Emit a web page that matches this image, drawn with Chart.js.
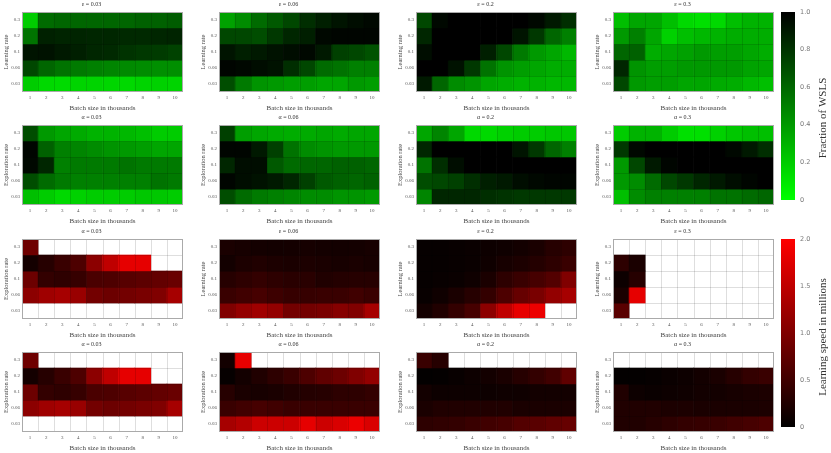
<!DOCTYPE html>
<html>
<head>
<meta charset="utf-8">
<script src="https://cdn.jsdelivr.net/npm/chart.js@4.4.1/dist/chart.umd.min.js"></script>
<style>
  body { margin: 0; background: #fff; }
  #wrap { position: relative; width: 831px; height: 453px; overflow: hidden; }
  canvas { position: absolute; }
</style>
</head>
<body>
<div id="wrap"></div>
<script>
// Axis labels
const batchSizes = ['1', '2', '3', '4', '5', '6', '7', '8', '9', '10'];
const rateLabels = ['0.3', '0.2', '0.1', '0.06', '0.03']; // top row first

// Fraction of WSLS, rows = learning rate (top 0.3 ... bottom 0.03)
const wslsEps003 = [
  [0.20, 0.58, 0.60, 0.60, 0.60, 0.60, 0.60, 0.62, 0.62, 0.64],
  [0.55, 0.87, 0.86, 0.86, 0.85, 0.85, 0.84, 0.84, 0.85, 0.86],
  [0.92, 0.93, 0.90, 0.88, 0.85, 0.84, 0.80, 0.78, 0.77, 0.74],
  [0.72, 0.60, 0.55, 0.52, 0.50, 0.48, 0.46, 0.45, 0.44, 0.44],
  [0.20, 0.15, 0.14, 0.17, 0.17, 0.16, 0.15, 0.17, 0.18, 0.17]
];
const wslsEps006 = [
  [0.37, 0.45, 0.58, 0.65, 0.72, 0.82, 0.88, 0.92, 0.95, 0.97],
  [0.72, 0.72, 0.70, 0.78, 0.85, 0.88, 0.97, 0.98, 0.98, 0.98],
  [0.92, 0.88, 0.90, 0.93, 0.95, 0.97, 0.90, 0.75, 0.72, 0.68],
  [0.98, 0.97, 0.95, 0.93, 0.82, 0.72, 0.58, 0.55, 0.50, 0.50],
  [0.70, 0.52, 0.42, 0.40, 0.38, 0.38, 0.35, 0.35, 0.40, 0.38]
];
const wslsEps02 = [
  [0.72, 0.97, 1.00, 1.00, 1.00, 1.00, 1.00, 0.97, 0.90, 0.82],
  [0.85, 1.00, 1.00, 1.00, 1.00, 1.00, 0.92, 0.78, 0.60, 0.50],
  [0.95, 1.00, 1.00, 1.00, 0.88, 0.72, 0.52, 0.40, 0.35, 0.28],
  [1.00, 1.00, 0.93, 0.78, 0.55, 0.42, 0.38, 0.35, 0.32, 0.32],
  [0.90, 0.60, 0.45, 0.42, 0.35, 0.32, 0.30, 0.30, 0.28, 0.28]
];
const wslsEps03 = [
  [0.25, 0.35, 0.35, 0.25, 0.15, 0.12, 0.15, 0.25, 0.30, 0.30],
  [0.40, 0.50, 0.35, 0.18, 0.25, 0.28, 0.30, 0.32, 0.32, 0.32],
  [0.60, 0.62, 0.32, 0.35, 0.37, 0.40, 0.38, 0.38, 0.35, 0.32],
  [0.85, 0.42, 0.38, 0.38, 0.40, 0.40, 0.40, 0.40, 0.36, 0.35],
  [0.72, 0.40, 0.38, 0.38, 0.35, 0.35, 0.33, 0.32, 0.28, 0.25]
];

// Fraction of WSLS, rows = exploration rate
const wslsAlpha003 = [
  [0.70, 0.40, 0.35, 0.33, 0.30, 0.30, 0.28, 0.25, 0.20, 0.20],
  [0.98, 0.62, 0.50, 0.48, 0.45, 0.42, 0.40, 0.38, 0.35, 0.35],
  [0.97, 0.85, 0.50, 0.52, 0.52, 0.52, 0.55, 0.52, 0.52, 0.52],
  [0.70, 0.58, 0.52, 0.50, 0.50, 0.50, 0.50, 0.50, 0.55, 0.52],
  [0.25, 0.20, 0.15, 0.18, 0.20, 0.20, 0.20, 0.22, 0.22, 0.20]
];
const wslsAlpha006 = [
  [0.75, 0.38, 0.35, 0.33, 0.32, 0.33, 0.35, 0.33, 0.35, 0.35],
  [0.98, 0.98, 0.90, 0.75, 0.55, 0.45, 0.42, 0.40, 0.40, 0.40],
  [0.85, 0.95, 0.95, 0.65, 0.58, 0.60, 0.60, 0.62, 0.62, 0.60],
  [0.98, 0.95, 0.93, 0.90, 0.85, 0.75, 0.65, 0.62, 0.60, 0.62],
  [0.70, 0.58, 0.52, 0.50, 0.48, 0.45, 0.45, 0.42, 0.42, 0.40]
];
const wslsAlpha02 = [
  [0.35, 0.48, 0.35, 0.15, 0.15, 0.18, 0.20, 0.20, 0.22, 0.22],
  [0.85, 1.00, 1.00, 1.00, 1.00, 1.00, 0.92, 0.78, 0.60, 0.50],
  [0.55, 0.82, 0.95, 1.00, 1.00, 1.00, 1.00, 1.00, 1.00, 1.00],
  [0.70, 0.72, 0.75, 0.82, 0.88, 0.90, 0.95, 0.97, 0.98, 0.98],
  [0.48, 0.85, 0.85, 0.85, 0.82, 0.80, 0.78, 0.78, 0.78, 0.78]
];
const wslsAlpha03 = [
  [0.20, 0.30, 0.30, 0.20, 0.12, 0.12, 0.18, 0.22, 0.25, 0.25],
  [0.78, 0.97, 1.00, 1.00, 1.00, 1.00, 1.00, 0.97, 0.90, 0.82],
  [0.40, 0.72, 0.90, 0.98, 1.00, 1.00, 1.00, 1.00, 1.00, 1.00],
  [0.40, 0.45, 0.58, 0.72, 0.78, 0.85, 0.90, 0.95, 0.98, 1.00],
  [0.25, 0.45, 0.50, 0.50, 0.50, 0.50, 0.55, 0.55, 0.58, 0.60]
];

// Learning speed in millions (null = no value)
const speedAlpha003 = [
  [0.86, null, null, null, null, null, null, null, null, null],
  [0.16, 0.30, 0.45, 0.60, 1.10, 1.50, 1.80, 1.80, null, null],
  [0.85, 0.40, 0.36, 0.42, 0.58, 0.60, 0.68, 0.72, 0.78, 0.82],
  [1.10, 1.25, 1.30, 1.20, 0.90, 0.85, 0.90, 0.95, 1.00, 1.30],
  [null, null, null, null, null, null, null, null, null, null]
];
const speedEps006 = [
  [0.20, 0.18, 0.16, 0.15, 0.16, 0.17, 0.16, 0.15, 0.16, 0.18],
  [0.15, 0.22, 0.25, 0.22, 0.20, 0.22, 0.20, 0.18, 0.20, 0.18],
  [0.30, 0.35, 0.40, 0.35, 0.32, 0.32, 0.25, 0.28, 0.30, 0.30],
  [0.45, 0.50, 0.55, 0.48, 0.42, 0.42, 0.45, 0.45, 0.50, 0.45],
  [1.00, 1.15, 1.25, 1.15, 0.90, 0.90, 0.95, 1.05, 1.00, 1.30]
];
const speedEps02 = [
  [0.05, 0.05, 0.06, 0.08, 0.10, 0.12, 0.15, 0.20, 0.30, 0.35],
  [0.05, 0.05, 0.06, 0.08, 0.12, 0.18, 0.22, 0.28, 0.35, 0.45],
  [0.05, 0.06, 0.08, 0.12, 0.20, 0.35, 0.45, 0.55, 0.65, 1.00],
  [0.06, 0.12, 0.20, 0.30, 0.40, 0.60, 0.80, 0.95, 1.15, 1.30],
  [0.15, 0.25, 0.40, 0.55, 1.10, 1.50, 1.80, 1.85, null, null]
];
const speedEps03 = [
  [null, null, null, null, null, null, null, null, null, null],
  [0.35, 0.20, null, null, null, null, null, null, null, null],
  [0.10, 0.30, null, null, null, null, null, null, null, null],
  [0.20, 1.80, null, null, null, null, null, null, null, null],
  [0.70, null, null, null, null, null, null, null, null, null]
];
const speedAlpha006 = [
  [0.15, 1.80, null, null, null, null, null, null, null, null],
  [0.05, 0.15, 0.25, 0.35, 0.45, 0.60, 0.75, 0.85, 1.00, 1.15],
  [0.30, 0.20, 0.18, 0.20, 0.25, 0.28, 0.30, 0.35, 0.35, 0.40],
  [0.45, 0.50, 0.55, 0.50, 0.45, 0.45, 0.45, 0.45, 0.45, 0.45],
  [1.30, 1.40, 1.60, 1.60, 1.60, 1.80, 1.60, 1.70, 1.85, 1.70]
];
const speedAlpha02 = [
  [0.45, 0.30, null, null, null, null, null, null, null, null],
  [0.02, 0.03, 0.06, 0.10, 0.15, 0.20, 0.30, 0.40, 0.50, 0.75],
  [0.15, 0.10, 0.10, 0.10, 0.10, 0.12, 0.12, 0.15, 0.15, 0.15],
  [0.20, 0.25, 0.25, 0.25, 0.25, 0.25, 0.20, 0.20, 0.20, 0.20],
  [0.35, 0.38, 0.40, 0.45, 0.50, 0.55, 0.65, 0.70, 0.75, 0.80]
];
const speedAlpha03 = [
  [null, null, null, null, null, null, null, null, null, null],
  [0.02, 0.03, 0.05, 0.08, 0.10, 0.15, 0.20, 0.30, 0.40, 0.45],
  [0.25, 0.10, 0.08, 0.10, 0.12, 0.15, 0.15, 0.18, 0.20, 0.22],
  [0.25, 0.25, 0.25, 0.22, 0.22, 0.20, 0.20, 0.20, 0.20, 0.22],
  [0.25, 0.25, 0.30, 0.35, 0.40, 0.42, 0.45, 0.50, 0.55, 0.60]
];

const LR = 'Learning rate';
const ER = 'Exploration rate';
const panels = [
  [
    { title: 'ε = 0.03', yTitle: LR, kind: 'wsls', data: wslsEps003 },
    { title: 'ε = 0.06', yTitle: LR, kind: 'wsls', data: wslsEps006 },
    { title: 'ε = 0.2', yTitle: LR, kind: 'wsls', data: wslsEps02 },
    { title: 'ε = 0.3', yTitle: LR, kind: 'wsls', data: wslsEps03 }
  ],
  [
    { title: 'α = 0.03', yTitle: ER, kind: 'wsls', data: wslsAlpha003 },
    { title: 'α = 0.06', yTitle: ER, kind: 'wsls', data: wslsAlpha006 },
    { title: 'α = 0.2', yTitle: ER, kind: 'wsls', data: wslsAlpha02 },
    { title: 'α = 0.3', yTitle: ER, kind: 'wsls', data: wslsAlpha03 }
  ],
  [
    { title: 'α = 0.03', yTitle: ER, kind: 'speed', data: speedAlpha003 },
    { title: 'ε = 0.06', yTitle: LR, kind: 'speed', data: speedEps006 },
    { title: 'ε = 0.2', yTitle: LR, kind: 'speed', data: speedEps02 },
    { title: 'ε = 0.3', yTitle: LR, kind: 'speed', data: speedEps03 }
  ],
  [
    { title: 'α = 0.03', yTitle: ER, kind: 'speed', data: speedAlpha003 },
    { title: 'α = 0.06', yTitle: ER, kind: 'speed', data: speedAlpha006 },
    { title: 'α = 0.2', yTitle: ER, kind: 'speed', data: speedAlpha02 },
    { title: 'α = 0.3', yTitle: ER, kind: 'speed', data: speedAlpha03 }
  ]
];

// Layout (pixel positions of each plot area)
const PANEL_LEFT = [22, 219, 416, 613];
const PANEL_TOP = [12, 125, 239, 352];
const CELL_W = 161, CELL_H = 80;
const AXIS_W = 22, XAXIS_H = 22, TITLE_H = 12;
const SPEED_MAX = 2;

Chart.defaults.font.family = '"Liberation Serif", "DejaVu Serif", serif';
Chart.defaults.color = '#444';
Chart.defaults.animation = false;

const wrap = document.getElementById('wrap');

const greenOf = v => v == null ? '#fff' : `rgb(0, ${Math.round(255 * (1 - v))}, 0)`;
const redOf = v => v == null ? '#fff' : `rgb(${Math.round(255 * v / SPEED_MAX)}, 0, 0)`;

function makeCanvas(left, top, w, h) {
  const c = document.createElement('canvas');
  c.width = w;
  c.height = h;
  c.style.left = left + 'px';
  c.style.top = top + 'px';
  c.style.width = w + 'px';
  c.style.height = h + 'px';
  wrap.appendChild(c);
  return c;
}

// thin lines between cells plus frame
const cellGrid = {
  id: 'cellGrid',
  afterDatasetsDraw(chart) {
    const { ctx, chartArea: a, scales: { x, y } } = chart;
    ctx.save();
    ctx.strokeStyle = 'rgba(0, 0, 0, 0.13)';
    ctx.lineWidth = 1;
    ctx.beginPath();
    for (let i = 1; i < batchSizes.length; i++) {
      const px = Math.round(x.getPixelForValue(i - 0.5)) + 0.5;
      ctx.moveTo(px, a.top);
      ctx.lineTo(px, a.bottom);
    }
    for (let j = 1; j < rateLabels.length; j++) {
      const py = Math.round(y.getPixelForValue(j)) + 0.5;
      ctx.moveTo(a.left, py);
      ctx.lineTo(a.right, py);
    }
    ctx.stroke();
    ctx.strokeStyle = '#aaa';
    ctx.strokeRect(a.left + 0.5, a.top + 0.5, a.right - a.left - 1, a.bottom - a.top - 1);
    ctx.restore();
  }
};

function drawPanel(row, col, p) {
  const canvas = makeCanvas(PANEL_LEFT[col] - AXIS_W, PANEL_TOP[row] - TITLE_H,
    AXIS_W + CELL_W + 2, TITLE_H + CELL_H + XAXIS_H);
  const colorOf = p.kind === 'wsls' ? greenOf : redOf;
  const n = rateLabels.length;
  const datasets = p.data.map((vals, r) => ({
    data: vals.map(v => v == null ? null : [n - 1 - r, n - r]),
    backgroundColor: vals.map(colorOf),
    barPercentage: 1,
    categoryPercentage: 1,
    grouped: false,
    borderWidth: 0
  }));

  new Chart(canvas, {
    type: 'bar',
    data: { labels: batchSizes, datasets },
    options: {
      responsive: false,
      devicePixelRatio: 1,
      layout: { padding: { right: 2 } },
      plugins: {
        legend: { display: false },
        tooltip: { enabled: false },
        title: {
          display: true,
          text: p.title,
          color: '#333',
          font: { size: 6, weight: 'normal' },
          padding: { top: 1, bottom: 3.8 }
        }
      },
      scales: {
        x: {
          grid: { display: false, drawTicks: false },
          border: { display: false },
          ticks: { font: { size: 5 }, padding: 3, maxRotation: 0, autoSkip: false, color: '#555' },
          title: {
            display: true,
            text: 'Batch size in thousands',
            color: '#444',
            font: { size: 7 },
            padding: { top: 0, bottom: 2 }
          },
          afterFit: s => { s.height = XAXIS_H; }
        },
        y: {
          min: 0,
          max: n,
          grid: { display: false, drawTicks: false },
          border: { display: false },
          afterBuildTicks: s => { s.ticks = rateLabels.map((_, i) => ({ value: i + 0.5 })); },
          ticks: {
            font: { size: 5 },
            padding: 2,
            color: '#555',
            callback: v => rateLabels[n - 1 - Math.floor(v)]
          },
          title: {
            display: true,
            text: p.yTitle,
            color: '#444',
            font: { size: 6.5 },
            padding: { top: 2.8, bottom: 0 }
          },
          afterFit: s => { s.width = AXIS_W; }
        }
      }
    },
    plugins: [cellGrid]
  });
}

panels.forEach((rowPanels, r) => rowPanels.forEach((p, c) => drawPanel(r, c, p)));

// colour bars
const BAR_LEFT = 781, BAR_W = 14, BAR_CANVAS_W = 50;

const barTitle = {
  id: 'barTitle',
  afterDraw(chart, args, opts) {
    const { ctx, chartArea: a } = chart;
    ctx.save();
    ctx.translate(a.right + 28, (a.top + a.bottom) / 2 + opts.shift);
    ctx.rotate(-Math.PI / 2);
    ctx.font = '11px "Liberation Serif", "DejaVu Serif", serif';
    ctx.fillStyle = '#333';
    ctx.textAlign = 'center';
    ctx.textBaseline = 'middle';
    ctx.fillText(opts.text, 0, 0);
    ctx.restore();
  }
};

function drawColorbar(top, max, step, title, shift, lowColor, highColor) {
  const canvas = makeCanvas(BAR_LEFT, top - 12, BAR_CANVAS_W, 188 + 24);
  new Chart(canvas, {
    type: 'bar',
    data: {
      labels: [''],
      datasets: [{
        data: [[0, max]],
        barPercentage: 1,
        categoryPercentage: 1,
        borderWidth: 0,
        backgroundColor: c => {
          const a = c.chart.chartArea;
          if (!a) return highColor;
          const g = c.chart.ctx.createLinearGradient(0, a.bottom, 0, a.top);
          g.addColorStop(0, lowColor);
          g.addColorStop(1, highColor);
          return g;
        }
      }]
    },
    options: {
      responsive: false,
      devicePixelRatio: 1,
      layout: { padding: { top: 12, bottom: 12 } },
      plugins: {
        legend: { display: false },
        tooltip: { enabled: false },
        barTitle: { text: title, shift }
      },
      scales: {
        x: { display: false },
        y: {
          position: 'right',
          min: 0,
          max,
          grid: { display: false, drawTicks: false },
          border: { display: false },
          ticks: {
            stepSize: step,
            padding: 5,
            color: '#777',
            font: { family: '"DejaVu Sans", sans-serif', size: 6.5 },
            callback: v => v === 0 ? '0' : v.toFixed(1)
          },
          afterFit: s => { s.width = BAR_CANVAS_W - BAR_W; }
        }
      }
    },
    plugins: [barTitle]
  });
}

drawColorbar(12, 1, 0.2, 'Fraction of WSLS', 12, 'rgb(0,255,0)', 'rgb(0,0,0)');
drawColorbar(239, SPEED_MAX, 0.5, 'Learning speed in millions', 4, 'rgb(0,0,0)', 'rgb(255,0,0)');
</script>
</body>
</html>
